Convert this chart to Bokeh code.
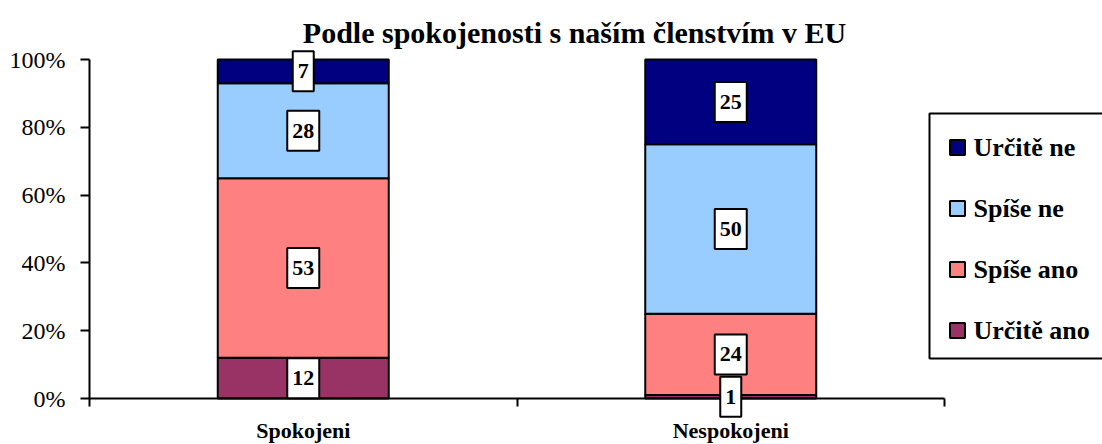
from bokeh.plotting import figure
from bokeh.models import (Range1d, FixedTicker, PrintfTickFormatter, Label,
                          ColumnDataSource, LinearAxis, BoxAnnotation)
from bokeh.embed import file_html
from bokeh.resources import INLINE

# ---------------- data ----------------
title = "Podle spokojenosti s naším členstvím v EU"
categories = ["Spokojeni", "Nespokojeni"]
series_names = ["Určitě ano", "Spíše ano", "Spíše ne", "Určitě ne"]
urcite_ano = [12, 1]
spise_ano = [53, 24]
spise_ne = [28, 50]
urcite_ne = [7, 25]
y_ticks = [0, 20, 40, 60, 80, 100]

# ---------------- style / layout ----------------
colors = ["#993366", "#FF8080", "#99CCFF", "#000080"]
FONT = "Times New Roman"
W, H = 1102, 444
PX_X0, PX_X1 = 89, 944      # pixel columns of the x axis ends
PX_Y0, PX_Y1 = 398, 59      # pixel rows of 0 % and 100 %

values = [urcite_ano, spise_ano, spise_ne, urcite_ne]
keys = ["urcite_ano", "spise_ano", "spise_ne", "urcite_ne"]
n = len(categories)
xpos = [i + 0.5 for i in range(n)]

sx = (PX_X1 - PX_X0) / n
sy = (PX_Y0 - PX_Y1) / 100.0


def dx(px):   # pixel column -> data x
    return (px - PX_X0) / sx


def dy(py):   # pixel row -> data y
    return (PX_Y0 - py) / sy


x_range = Range1d(dx(0), dx(W))
y_range = Range1d(dy(H), dy(0))

p = figure(width=W, height=H, output_backend="svg", toolbar_location=None,
           x_range=x_range, y_range=y_range, min_border=0,
           x_axis_location=None, y_axis_location=None)
p.outline_line_color = None
p.grid.visible = False

data = {"x": xpos}
for k, v in zip(keys, values):
    data[k] = v
source = ColumnDataSource(data)

renderers = p.vbar_stack(keys, x="x", width=0.4, fill_color=colors,
                         line_color="black", line_width=2, source=source)

# y axis at x = 0
yax = LinearAxis(fixed_location=0, bounds=(0, 100),
                 ticker=FixedTicker(ticks=y_ticks, minor_ticks=[]),
                 formatter=PrintfTickFormatter(format="%d%%"))
yax.major_label_text_font = FONT
yax.major_label_text_font_size = "24px"
yax.major_label_text_color = "black"
yax.major_label_standoff = 15
yax.major_tick_out = 9
yax.major_tick_in = 0
yax.minor_tick_out = 0
yax.minor_tick_in = 0
yax.axis_line_width = 2
yax.major_tick_line_width = 2
yax.axis_line_color = "black"
yax.major_tick_line_color = "black"
p.add_layout(yax, "left")

# x axis at y = 0, ticks on category boundaries
xax = LinearAxis(fixed_location=0, bounds=(0, n),
                 ticker=FixedTicker(ticks=xpos, minor_ticks=list(range(n + 1))),
                 major_label_overrides={xc: cat for xc, cat in zip(xpos, categories)})
xax.major_tick_out = 0
xax.major_tick_in = 0
xax.minor_tick_out = 8
xax.minor_tick_in = 0
xax.minor_tick_line_width = 2
xax.minor_tick_line_color = "black"
xax.axis_line_width = 2
xax.axis_line_color = "black"
xax.major_label_standoff = 11
xax.major_label_text_font = FONT
xax.major_label_text_font_style = "bold"
xax.major_label_text_font_size = "22px"
xax.major_label_text_color = "black"
p.add_layout(xax, "below")

# value labels
for j, xc in enumerate(xpos):
    bottom = 0
    for vals in values:
        v = vals[j]
        p.add_layout(Label(x=xc, y=bottom + v / 2, text=str(v), text_align="center",
                           text_baseline="middle", text_font=FONT,
                           text_font_style="bold", text_font_size="22px",
                           text_color="black", background_fill_color="white",
                           border_line_color="black", border_line_width=2,
                           padding=(5, 13)))
        bottom += v

# title
p.add_layout(Label(x=dx(574), y=dy(32), text=title,
                   text_align="center", text_baseline="alphabetic", text_font=FONT,
                   text_font_style="bold", text_font_size="30px",
                   text_color="black"))

# legend (box, swatches, labels) - top entry is the last series
p.add_layout(BoxAnnotation(left=dx(929), right=dx(1110), top=dy(113), bottom=dy(358),
                           fill_color="white", fill_alpha=1, line_color="black",
                           line_alpha=1, line_width=2, level="underlay"))
leg_order = list(reversed(range(len(series_names))))
leg_y = [dy(147 + 61 * k) for k in range(len(leg_order))]
leg_src = ColumnDataSource(dict(x=[dx(957)] * len(leg_order), y=leg_y,
                                color=[colors[i] for i in leg_order],
                                label=[series_names[i] for i in leg_order]))
p.rect(x="x", y="y", width=15, height=15, width_units="screen", height_units="screen",
       fill_color="color", line_color="black", line_width=2, source=leg_src)
for k, i in enumerate(leg_order):
    p.add_layout(Label(x=dx(973), y=leg_y[k], text=series_names[i], text_align="left",
                       text_baseline="middle", text_font=FONT, text_font_style="bold",
                       text_font_size="26px", text_color="black"))

open("out.html", "w").write(file_html(p, INLINE))
